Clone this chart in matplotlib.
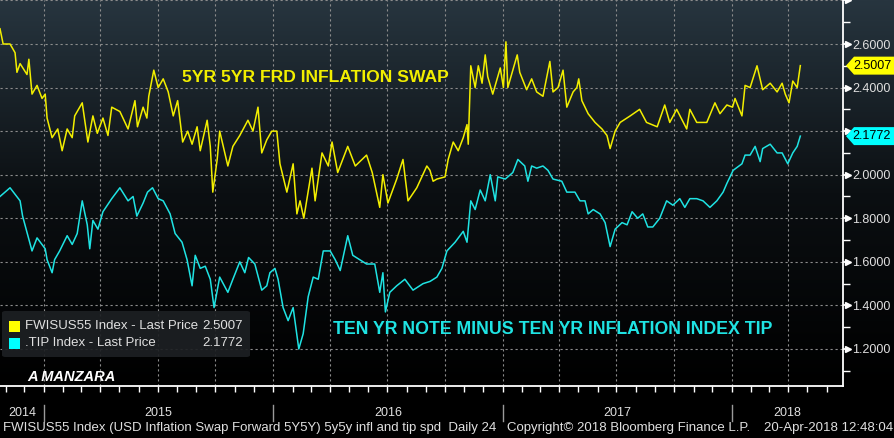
import numpy as np
import pandas as pd
import matplotlib
matplotlib.use("Agg")
import matplotlib.pyplot as plt
import matplotlib.dates as mdates
import matplotlib.transforms as mtransforms
from matplotlib.colors import LinearSegmentedColormap
from matplotlib.patches import FancyBboxPatch, Rectangle, Polygon

# 5y5y inflation swap forward (FWISUS55)
swap_dates = [
    "2014-10-23", "2014-10-28", "2014-11-08", "2014-11-16", "2014-11-19", "2014-11-24", "2014-12-05",
    "2014-12-08", "2014-12-13", "2014-12-21", "2014-12-29", "2015-01-03", "2015-01-06", "2015-01-14",
    "2015-01-23", "2015-01-30", "2015-02-07", "2015-02-15", "2015-02-19", "2015-03-03", "2015-03-12",
    "2015-03-20", "2015-03-27", "2015-04-05", "2015-04-13", "2015-04-19", "2015-05-02", "2015-05-15",
    "2015-05-26", "2015-05-30", "2015-06-08", "2015-06-14", "2015-06-17", "2015-06-25", "2015-07-02",
    "2015-07-10", "2015-07-18", "2015-07-26", "2015-08-02", "2015-08-10", "2015-08-18", "2015-08-25",
    "2015-09-02", "2015-09-07", "2015-09-18", "2015-09-23", "2015-09-27", "2015-10-04", "2015-10-08",
    "2015-10-21", "2015-10-29", "2015-11-09", "2015-11-22", "2015-11-30", "2015-12-08", "2015-12-14",
    "2015-12-22", "2015-12-30", "2016-01-07", "2016-01-12", "2016-01-23", "2016-02-02", "2016-02-08",
    "2016-02-13", "2016-02-19", "2016-03-03", "2016-03-08", "2016-03-19", "2016-03-29", "2016-04-04",
    "2016-04-13", "2016-04-29", "2016-05-11", "2016-05-29", "2016-06-07", "2016-06-19", "2016-06-24",
    "2016-07-02", "2016-07-16", "2016-07-26", "2016-08-03", "2016-08-17", "2016-09-02", "2016-09-07",
    "2016-09-12", "2016-09-18", "2016-10-01", "2016-10-06", "2016-10-14", "2016-10-22", "2016-10-30",
    "2016-11-05", "2016-11-07", "2016-11-11", "2016-11-18", "2016-11-23", "2016-11-29", "2016-12-04",
    "2016-12-08", "2016-12-16", "2016-12-28", "2017-01-02", "2017-01-06", "2017-01-09", "2017-01-16",
    "2017-01-24", "2017-01-28", "2017-02-08", "2017-02-16", "2017-02-24", "2017-03-06", "2017-03-17",
    "2017-03-22", "2017-03-30", "2017-04-07", "2017-04-13", "2017-04-23", "2017-04-29", "2017-05-02",
    "2017-05-07", "2017-05-17", "2017-05-28", "2017-06-08", "2017-06-16", "2017-06-21", "2017-06-29",
    "2017-07-07", "2017-07-23", "2017-08-07", "2017-08-18", "2017-09-04", "2017-09-16", "2017-09-24",
    "2017-10-05", "2017-10-21", "2017-10-26", "2017-11-06", "2017-11-22", "2017-12-05", "2017-12-13",
    "2017-12-24", "2018-01-02", "2018-01-06", "2018-01-17", "2018-01-22", "2018-01-30", "2018-02-10",
    "2018-02-19", "2018-03-03", "2018-03-14", "2018-03-22", "2018-03-27", "2018-04-02", "2018-04-08",
    "2018-04-15", "2018-04-20",
]
swap_vals = [
    2.67, 2.60, 2.60, 2.56, 2.47, 2.51, 2.46,
    2.53, 2.37, 2.41, 2.35, 2.37, 2.26, 2.17,
    2.21, 2.11, 2.21, 2.17, 2.27, 2.33, 2.15,
    2.27, 2.19, 2.26, 2.18, 2.31, 2.29, 2.21,
    2.34, 2.22, 2.31, 2.26, 2.36, 2.48, 2.40,
    2.44, 2.38, 2.27, 2.34, 2.15, 2.20, 2.14,
    2.22, 2.11, 2.25, 2.13, 1.92, 2.07, 2.20,
    2.04, 2.13, 2.18, 2.25, 2.20, 2.31, 2.10,
    2.16, 2.20, 2.20, 2.05, 1.92, 2.05, 1.82,
    1.88, 1.80, 2.03, 1.88, 2.10, 2.04, 2.15,
    2.01, 2.13, 2.04, 2.09, 2.01, 1.85, 2.00,
    1.87, 1.98, 2.07, 1.88, 1.94, 2.04, 2.02,
    1.97, 1.98, 1.99, 2.07, 2.15, 2.11, 2.17,
    2.23, 2.14, 2.50, 2.40, 2.50, 2.42, 2.55,
    2.45, 2.37, 2.49, 2.40, 2.61, 2.40, 2.47,
    2.55, 2.47, 2.39, 2.44, 2.38, 2.36, 2.52,
    2.38, 2.40, 2.48, 2.31, 2.38, 2.40, 2.44,
    2.34, 2.28, 2.24, 2.21, 2.18, 2.12, 2.20,
    2.24, 2.27, 2.30, 2.24, 2.22, 2.32, 2.24,
    2.30, 2.21, 2.30, 2.24, 2.24, 2.33, 2.28,
    2.32, 2.31, 2.35, 2.27, 2.41, 2.40, 2.50,
    2.39, 2.42, 2.38, 2.42, 2.37, 2.33, 2.43,
    2.40, 2.5007,
]

# .TIP index: 10y note minus 10y TIPS
tip_dates = [
    "2014-10-23", "2014-11-08", "2014-11-16", "2014-11-24", "2014-11-28", "2014-12-13", "2014-12-21",
    "2015-01-03", "2015-01-06", "2015-01-14", "2015-01-18", "2015-01-26", "2015-02-07", "2015-02-15",
    "2015-02-23", "2015-03-03", "2015-03-11", "2015-03-15", "2015-03-20", "2015-03-28", "2015-04-05",
    "2015-04-19", "2015-05-02", "2015-05-15", "2015-05-23", "2015-05-29", "2015-06-08", "2015-06-15",
    "2015-06-23", "2015-07-02", "2015-07-10", "2015-07-21", "2015-07-29", "2015-08-09", "2015-08-17",
    "2015-08-25", "2015-08-30", "2015-09-07", "2015-09-15", "2015-09-23", "2015-09-29", "2015-10-08",
    "2015-10-21", "2015-10-29", "2015-11-09", "2015-11-17", "2015-11-23", "2015-12-03", "2015-12-14",
    "2015-12-22", "2015-12-27", "2016-01-04", "2016-01-09", "2016-01-17", "2016-01-25", "2016-02-02",
    "2016-02-11", "2016-02-18", "2016-02-26", "2016-03-05", "2016-03-13", "2016-03-21", "2016-04-01",
    "2016-04-09", "2016-04-17", "2016-04-29", "2016-05-07", "2016-05-18", "2016-05-29", "2016-06-11",
    "2016-06-19", "2016-06-24", "2016-06-28", "2016-07-05", "2016-07-16", "2016-07-29", "2016-08-11",
    "2016-08-27", "2016-09-07", "2016-09-18", "2016-09-26", "2016-10-04", "2016-10-17", "2016-10-30",
    "2016-11-05", "2016-11-11", "2016-11-18", "2016-11-26", "2016-12-04", "2016-12-12", "2016-12-20",
    "2016-12-24", "2017-01-05", "2017-01-17", "2017-01-25", "2017-02-05", "2017-02-10", "2017-02-16",
    "2017-02-24", "2017-03-06", "2017-03-14", "2017-03-22", "2017-04-05", "2017-04-13", "2017-04-26",
    "2017-05-04", "2017-05-12", "2017-05-17", "2017-05-25", "2017-06-05", "2017-06-13", "2017-06-21",
    "2017-06-29", "2017-07-10", "2017-07-18", "2017-07-26", "2017-08-04", "2017-08-12", "2017-08-20",
    "2017-08-28", "2017-09-08", "2017-09-19", "2017-09-29", "2017-10-10", "2017-10-18", "2017-10-26",
    "2017-11-06", "2017-11-16", "2017-11-27", "2017-12-08", "2017-12-18", "2017-12-24", "2018-01-03",
    "2018-01-17", "2018-01-22", "2018-01-30", "2018-02-07", "2018-02-15", "2018-02-19", "2018-03-03",
    "2018-03-14", "2018-03-22", "2018-03-31", "2018-04-08", "2018-04-15", "2018-04-20",
]
tip_vals = [
    1.90, 1.94, 1.91, 1.88, 1.81, 1.65, 1.71,
    1.66, 1.61, 1.55, 1.61, 1.65, 1.72, 1.68,
    1.73, 1.88, 1.77, 1.66, 1.79, 1.75, 1.83,
    1.89, 1.94, 1.88, 1.90, 1.81, 1.87, 1.92,
    1.94, 1.89, 1.88, 1.82, 1.73, 1.69, 1.61,
    1.49, 1.63, 1.57, 1.58, 1.52, 1.39, 1.53,
    1.46, 1.52, 1.60, 1.55, 1.62, 1.59, 1.47,
    1.49, 1.55, 1.57, 1.52, 1.39, 1.33, 1.39,
    1.20, 1.27, 1.44, 1.53, 1.52, 1.65, 1.65,
    1.61, 1.56, 1.72, 1.63, 1.61, 1.59, 1.59,
    1.46, 1.55, 1.37, 1.46, 1.49, 1.52, 1.47,
    1.50, 1.51, 1.53, 1.57, 1.65, 1.69, 1.74,
    1.69, 1.88, 1.84, 1.93, 1.88, 2.00, 1.88,
    1.99, 1.98, 2.01, 2.07, 2.04, 1.97, 2.04,
    2.03, 2.04, 2.02, 1.98, 1.97, 1.92, 1.92,
    1.88, 1.88, 1.82, 1.84, 1.82, 1.78, 1.67,
    1.75, 1.78, 1.77, 1.83, 1.80, 1.82, 1.76,
    1.76, 1.80, 1.88, 1.86, 1.89, 1.85, 1.89,
    1.89, 1.88, 1.85, 1.88, 1.92, 1.96, 2.02,
    2.05, 2.09, 2.09, 2.13, 2.06, 2.12, 2.14,
    2.10, 2.10, 2.05, 2.10, 2.13, 2.1772,
]

years = [2014, 2015, 2016, 2017, 2018]
y_ticks = [1.2, 1.4, 1.6, 1.8, 2.0, 2.2, 2.4, 2.6, 2.8]
y_labels = ["1.2000", "1.4000", "1.6000", "1.8000", "2.0000", "", "2.4000", "2.6000", ""]
y_minor = [1.1, 1.3, 1.5, 1.7, 1.9, 2.1, 2.3, 2.5, 2.7]

swap_name = "FWISUS55 Index - Last Price"
tip_name = ".TIP Index - Last Price"
swap_note = "5YR 5YR FRD INFLATION SWAP"
tip_note = "TEN YR NOTE MINUS TEN YR INFLATION INDEX TIP"
footer_left = "FWISUS55 Index (USD Inflation Swap Forward 5Y5Y) 5y5y infl and tip spd  Daily 24"
footer_mid = "Copyright\u00a9 2018 Bloomberg Finance L.P."
footer_right = "20-Apr-2018 12:48:04"

YELLOW = "#f2ee00"
CYAN = "#1fe3e3"
TXT = "#e0e0e0"
W, H = 895, 438

plt.rcParams["font.family"] = ["Liberation Sans", "DejaVu Sans"]

swap = pd.Series(swap_vals, index=pd.to_datetime(swap_dates))
tip = pd.Series(tip_vals, index=pd.to_datetime(tip_dates))

fig = plt.figure(figsize=(W / 100, H / 100), dpi=100, facecolor="black")

def fx(px):
    return px / W

def fy(py):
    return 1 - py / H

ax_bottom = fy(386)
ax_right = fx(843)

# gradient backdrop (dark slate to black)
bg = fig.add_axes([0, ax_bottom, 1, 1 - ax_bottom])
cmap = LinearSegmentedColormap.from_list("bb", ["#000000", "#0b0f12", "#27353f"])
grad = np.linspace(0, 1, 256).reshape(-1, 1)
bg.imshow(grad, cmap=cmap, aspect="auto", extent=[0, 1, 0, 1], origin="lower")
bg.set_axis_off()
bg.set_zorder(0)

ax = fig.add_axes([0, ax_bottom, ax_right, 1 - ax_bottom])
ax.set_zorder(1)
ax.set_facecolor("none")

ax.plot(swap.index, swap.values, color=YELLOW, lw=1.1, zorder=3)
ax.plot(tip.index, tip.values, color=CYAN, lw=1.1, zorder=3)

ax.set_xlim(pd.Timestamp("2014-10-23"), pd.Timestamp("2018-06-27"))
ax.set_ylim(1.03, 2.802)

for s in ["left", "top"]:
    ax.spines[s].set_visible(False)
for s in ["right", "bottom"]:
    ax.spines[s].set_color("white")
    ax.spines[s].set_linewidth(1.3)

# y axis on the right
ax.yaxis.tick_right()
ax.set_yticks(y_ticks)
ax.set_yticklabels(y_labels)
ax.set_yticks(y_minor, minor=True)
ax.tick_params(axis="y", which="major", length=3, width=1.3, color="white",
               labelcolor=TXT, labelsize=9, pad=3.5)
ax.tick_params(axis="y", which="minor", length=5, width=1, color="white")
arrow_tf = mtransforms.blended_transform_factory(ax.transAxes, ax.transData)
ax.plot([1.006] * len(y_ticks), y_ticks, ls="none", marker=">", ms=5, color="white",
        transform=arrow_tf, clip_on=False, zorder=5)

# x axis: monthly ticks, quarterly grid
ax.xaxis.set_major_locator(mdates.MonthLocator(bymonth=[1, 4, 7, 10]))
ax.xaxis.set_minor_locator(mdates.MonthLocator())
ax.tick_params(axis="x", which="both", length=4, width=1, color="white", labelbottom=False)

ax.grid(True, which="major", color="#8c8c8c", lw=0.8, ls=(0, (2, 2.5)))

# year labels and separators
xlo, xhi = ax.get_xlim()
yr_tf = mtransforms.blended_transform_factory(ax.transData, ax.transAxes)
for yr in years:
    start = mdates.date2num(pd.Timestamp(f"{yr}-01-01"))
    end = mdates.date2num(pd.Timestamp(f"{yr + 1}-01-01"))
    mid = (max(start, xlo) + min(end, xhi)) / 2
    ax.text(mid, -0.071, str(yr), transform=yr_tf, ha="center", va="center",
            color=TXT, fontsize=9)
    if start > xlo:
        ax.plot([start, start], [-0.05, -0.09], color="#9a9a9a", lw=1,
                transform=yr_tf, clip_on=False)

# annotations
ax.text(fx(182), fy(77), swap_note, transform=fig.transFigure, color=YELLOW,
        fontsize=12.6, fontweight="bold", va="center", ha="left")
ax.text(fx(333), fy(329), tip_note, transform=fig.transFigure, color=CYAN,
        fontsize=12.8, fontweight="bold", va="center", ha="left")
fig.text(fx(27), fy(377), "A MANZARA", color="white", fontsize=10.5,
         fontweight="bold", fontstyle="italic", va="center")

# legend box
leg = FancyBboxPatch((fx(2), fy(357)), fx(248), 46 / H, boxstyle="round,pad=0,rounding_size=0.004",
                     transform=fig.transFigure, fc="#1d2023", ec="none", alpha=0.92, zorder=6)
fig.patches.append(leg)
for row_y, col, name, val in [(326, "#ffff00", swap_name, swap.iloc[-1]),
                              (343, "#00ffff", tip_name, tip.iloc[-1])]:
    fig.patches.append(Rectangle((fx(9), fy(row_y + 5.5)), fx(11), 11 / H,
                                 transform=fig.transFigure, fc=col, ec="none", zorder=7))
    fig.text(fx(25), fy(row_y), name, color=TXT, fontsize=9.5, va="center", zorder=7)
    fig.text(fx(243), fy(row_y), "%.4f" % val, color=TXT, fontsize=9.5,
             va="center", ha="right", zorder=7)

# last-price tags on the right axis
tag_tf = mtransforms.blended_transform_factory(fig.transFigure, ax.transData)
half = 9 / 218
for series, col in [(swap, "#ffff00"), (tip, "#00ffff")]:
    v = series.iloc[-1]
    poly = Polygon([(fx(846), v), (fx(854), v + half), (1.0, v + half),
                    (1.0, v - half), (fx(854), v - half)], closed=True,
                   transform=tag_tf, fc=col, ec="none", clip_on=False, zorder=8)
    ax.add_patch(poly)
    ax.text(fx(872), v, "%.4f" % v, transform=tag_tf, ha="center", va="center",
            color="black", fontsize=9, zorder=9, clip_on=False)

# footer
fig.text(fx(3), fy(428), footer_left, color=TXT, fontsize=9.5, va="center")
fig.text(fx(629), fy(428), footer_mid, color=TXT, fontsize=9.5, va="center", ha="center")
fig.text(fx(893), fy(428), footer_right, color=TXT, fontsize=9.5, va="center", ha="right")

fig.savefig("out.png", dpi=100, facecolor="black")
